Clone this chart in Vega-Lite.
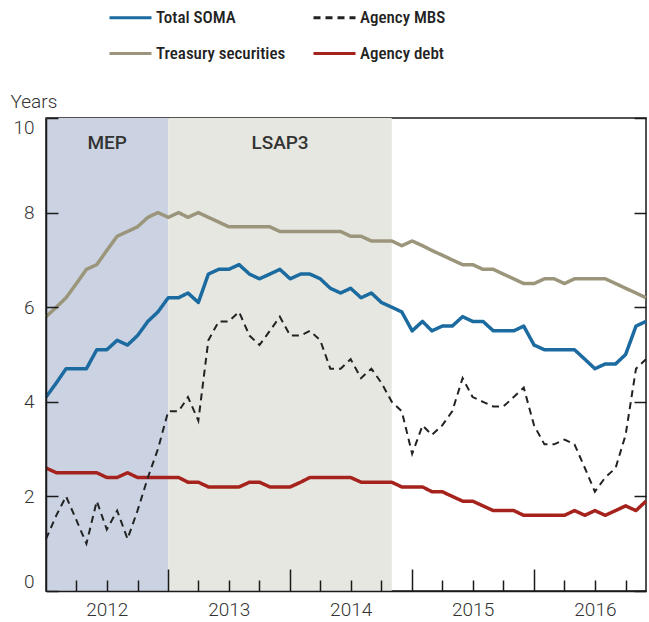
{
  "$schema": "https://vega.github.io/schema/vega-lite/v6.json",
  "width": 600,
  "height": 473,
  "autosize": {"type": "none"},
  "padding": {"left": 46, "top": 118, "right": 3, "bottom": 31},
  "background": "white",
  "config": {
    "view": {"stroke": "#1a1a1a", "strokeWidth": 1.5},
    "font": "Roboto",
    "axis": {"grid": false, "labelFont": "Roboto", "titleFont": "Roboto"}
  },
  "datasets": {
    "periods": [
      {"period": "MEP", "start": "2012-01-01", "end": "2013-01-01"},
      {"period": "LSAP3", "start": "2013-01-01", "end": "2014-11-01"}
    ],
    "wam": [
      {"date":"2012-01-01","series":"Total SOMA","value":4.1},{"date":"2012-02-01","series":"Total SOMA","value":4.4},{"date":"2012-03-01","series":"Total SOMA","value":4.7},{"date":"2012-04-01","series":"Total SOMA","value":4.7},{"date":"2012-05-01","series":"Total SOMA","value":4.7},{"date":"2012-06-01","series":"Total SOMA","value":5.1},{"date":"2012-07-01","series":"Total SOMA","value":5.1},{"date":"2012-08-01","series":"Total SOMA","value":5.3},{"date":"2012-09-01","series":"Total SOMA","value":5.2},{"date":"2012-10-01","series":"Total SOMA","value":5.4},{"date":"2012-11-01","series":"Total SOMA","value":5.7},{"date":"2012-12-01","series":"Total SOMA","value":5.9},
      {"date":"2013-01-01","series":"Total SOMA","value":6.2},{"date":"2013-02-01","series":"Total SOMA","value":6.2},{"date":"2013-03-01","series":"Total SOMA","value":6.3},{"date":"2013-04-01","series":"Total SOMA","value":6.1},{"date":"2013-05-01","series":"Total SOMA","value":6.7},{"date":"2013-06-01","series":"Total SOMA","value":6.8},{"date":"2013-07-01","series":"Total SOMA","value":6.8},{"date":"2013-08-01","series":"Total SOMA","value":6.9},{"date":"2013-09-01","series":"Total SOMA","value":6.7},{"date":"2013-10-01","series":"Total SOMA","value":6.6},{"date":"2013-11-01","series":"Total SOMA","value":6.7},{"date":"2013-12-01","series":"Total SOMA","value":6.8},
      {"date":"2014-01-01","series":"Total SOMA","value":6.6},{"date":"2014-02-01","series":"Total SOMA","value":6.7},{"date":"2014-03-01","series":"Total SOMA","value":6.7},{"date":"2014-04-01","series":"Total SOMA","value":6.6},{"date":"2014-05-01","series":"Total SOMA","value":6.4},{"date":"2014-06-01","series":"Total SOMA","value":6.3},{"date":"2014-07-01","series":"Total SOMA","value":6.4},{"date":"2014-08-01","series":"Total SOMA","value":6.2},{"date":"2014-09-01","series":"Total SOMA","value":6.3},{"date":"2014-10-01","series":"Total SOMA","value":6.1},{"date":"2014-11-01","series":"Total SOMA","value":6.0},{"date":"2014-12-01","series":"Total SOMA","value":5.9},
      {"date":"2015-01-01","series":"Total SOMA","value":5.5},{"date":"2015-02-01","series":"Total SOMA","value":5.7},{"date":"2015-03-01","series":"Total SOMA","value":5.5},{"date":"2015-04-01","series":"Total SOMA","value":5.6},{"date":"2015-05-01","series":"Total SOMA","value":5.6},{"date":"2015-06-01","series":"Total SOMA","value":5.8},{"date":"2015-07-01","series":"Total SOMA","value":5.7},{"date":"2015-08-01","series":"Total SOMA","value":5.7},{"date":"2015-09-01","series":"Total SOMA","value":5.5},{"date":"2015-10-01","series":"Total SOMA","value":5.5},{"date":"2015-11-01","series":"Total SOMA","value":5.5},{"date":"2015-12-01","series":"Total SOMA","value":5.6},
      {"date":"2016-01-01","series":"Total SOMA","value":5.2},{"date":"2016-02-01","series":"Total SOMA","value":5.1},{"date":"2016-03-01","series":"Total SOMA","value":5.1},{"date":"2016-04-01","series":"Total SOMA","value":5.1},{"date":"2016-05-01","series":"Total SOMA","value":5.1},{"date":"2016-06-01","series":"Total SOMA","value":4.9},{"date":"2016-07-01","series":"Total SOMA","value":4.7},{"date":"2016-08-01","series":"Total SOMA","value":4.8},{"date":"2016-09-01","series":"Total SOMA","value":4.8},{"date":"2016-10-01","series":"Total SOMA","value":5.0},{"date":"2016-11-01","series":"Total SOMA","value":5.6},{"date":"2016-12-01","series":"Total SOMA","value":5.7},

      {"date":"2012-01-01","series":"Treasury securities","value":5.8},{"date":"2012-02-01","series":"Treasury securities","value":6.0},{"date":"2012-03-01","series":"Treasury securities","value":6.2},{"date":"2012-04-01","series":"Treasury securities","value":6.5},{"date":"2012-05-01","series":"Treasury securities","value":6.8},{"date":"2012-06-01","series":"Treasury securities","value":6.9},{"date":"2012-07-01","series":"Treasury securities","value":7.2},{"date":"2012-08-01","series":"Treasury securities","value":7.5},{"date":"2012-09-01","series":"Treasury securities","value":7.6},{"date":"2012-10-01","series":"Treasury securities","value":7.7},{"date":"2012-11-01","series":"Treasury securities","value":7.9},{"date":"2012-12-01","series":"Treasury securities","value":8.0},
      {"date":"2013-01-01","series":"Treasury securities","value":7.9},{"date":"2013-02-01","series":"Treasury securities","value":8.0},{"date":"2013-03-01","series":"Treasury securities","value":7.9},{"date":"2013-04-01","series":"Treasury securities","value":8.0},{"date":"2013-05-01","series":"Treasury securities","value":7.9},{"date":"2013-06-01","series":"Treasury securities","value":7.8},{"date":"2013-07-01","series":"Treasury securities","value":7.7},{"date":"2013-08-01","series":"Treasury securities","value":7.7},{"date":"2013-09-01","series":"Treasury securities","value":7.7},{"date":"2013-10-01","series":"Treasury securities","value":7.7},{"date":"2013-11-01","series":"Treasury securities","value":7.7},{"date":"2013-12-01","series":"Treasury securities","value":7.6},
      {"date":"2014-01-01","series":"Treasury securities","value":7.6},{"date":"2014-02-01","series":"Treasury securities","value":7.6},{"date":"2014-03-01","series":"Treasury securities","value":7.6},{"date":"2014-04-01","series":"Treasury securities","value":7.6},{"date":"2014-05-01","series":"Treasury securities","value":7.6},{"date":"2014-06-01","series":"Treasury securities","value":7.6},{"date":"2014-07-01","series":"Treasury securities","value":7.5},{"date":"2014-08-01","series":"Treasury securities","value":7.5},{"date":"2014-09-01","series":"Treasury securities","value":7.4},{"date":"2014-10-01","series":"Treasury securities","value":7.4},{"date":"2014-11-01","series":"Treasury securities","value":7.4},{"date":"2014-12-01","series":"Treasury securities","value":7.3},
      {"date":"2015-01-01","series":"Treasury securities","value":7.4},{"date":"2015-02-01","series":"Treasury securities","value":7.3},{"date":"2015-03-01","series":"Treasury securities","value":7.2},{"date":"2015-04-01","series":"Treasury securities","value":7.1},{"date":"2015-05-01","series":"Treasury securities","value":7.0},{"date":"2015-06-01","series":"Treasury securities","value":6.9},{"date":"2015-07-01","series":"Treasury securities","value":6.9},{"date":"2015-08-01","series":"Treasury securities","value":6.8},{"date":"2015-09-01","series":"Treasury securities","value":6.8},{"date":"2015-10-01","series":"Treasury securities","value":6.7},{"date":"2015-11-01","series":"Treasury securities","value":6.6},{"date":"2015-12-01","series":"Treasury securities","value":6.5},
      {"date":"2016-01-01","series":"Treasury securities","value":6.5},{"date":"2016-02-01","series":"Treasury securities","value":6.6},{"date":"2016-03-01","series":"Treasury securities","value":6.6},{"date":"2016-04-01","series":"Treasury securities","value":6.5},{"date":"2016-05-01","series":"Treasury securities","value":6.6},{"date":"2016-06-01","series":"Treasury securities","value":6.6},{"date":"2016-07-01","series":"Treasury securities","value":6.6},{"date":"2016-08-01","series":"Treasury securities","value":6.6},{"date":"2016-09-01","series":"Treasury securities","value":6.5},{"date":"2016-10-01","series":"Treasury securities","value":6.4},{"date":"2016-11-01","series":"Treasury securities","value":6.3},{"date":"2016-12-01","series":"Treasury securities","value":6.2},

      {"date":"2012-01-01","series":"Agency MBS","value":1.1},{"date":"2012-02-01","series":"Agency MBS","value":1.6},{"date":"2012-03-01","series":"Agency MBS","value":2.0},{"date":"2012-04-01","series":"Agency MBS","value":1.5},{"date":"2012-05-01","series":"Agency MBS","value":1.0},{"date":"2012-06-01","series":"Agency MBS","value":1.9},{"date":"2012-07-01","series":"Agency MBS","value":1.3},{"date":"2012-08-01","series":"Agency MBS","value":1.7},{"date":"2012-09-01","series":"Agency MBS","value":1.1},{"date":"2012-10-01","series":"Agency MBS","value":1.7},{"date":"2012-11-01","series":"Agency MBS","value":2.4},{"date":"2012-12-01","series":"Agency MBS","value":3.0},
      {"date":"2013-01-01","series":"Agency MBS","value":3.8},{"date":"2013-02-01","series":"Agency MBS","value":3.8},{"date":"2013-03-01","series":"Agency MBS","value":4.1},{"date":"2013-04-01","series":"Agency MBS","value":3.6},{"date":"2013-05-01","series":"Agency MBS","value":5.3},{"date":"2013-06-01","series":"Agency MBS","value":5.7},{"date":"2013-07-01","series":"Agency MBS","value":5.7},{"date":"2013-08-01","series":"Agency MBS","value":5.9},{"date":"2013-09-01","series":"Agency MBS","value":5.4},{"date":"2013-10-01","series":"Agency MBS","value":5.2},{"date":"2013-11-01","series":"Agency MBS","value":5.5},{"date":"2013-12-01","series":"Agency MBS","value":5.8},
      {"date":"2014-01-01","series":"Agency MBS","value":5.4},{"date":"2014-02-01","series":"Agency MBS","value":5.4},{"date":"2014-03-01","series":"Agency MBS","value":5.5},{"date":"2014-04-01","series":"Agency MBS","value":5.3},{"date":"2014-05-01","series":"Agency MBS","value":4.7},{"date":"2014-06-01","series":"Agency MBS","value":4.7},{"date":"2014-07-01","series":"Agency MBS","value":4.9},{"date":"2014-08-01","series":"Agency MBS","value":4.5},{"date":"2014-09-01","series":"Agency MBS","value":4.7},{"date":"2014-10-01","series":"Agency MBS","value":4.4},{"date":"2014-11-01","series":"Agency MBS","value":4.0},{"date":"2014-12-01","series":"Agency MBS","value":3.8},
      {"date":"2015-01-01","series":"Agency MBS","value":2.9},{"date":"2015-02-01","series":"Agency MBS","value":3.5},{"date":"2015-03-01","series":"Agency MBS","value":3.3},{"date":"2015-04-01","series":"Agency MBS","value":3.5},{"date":"2015-05-01","series":"Agency MBS","value":3.8},{"date":"2015-06-01","series":"Agency MBS","value":4.5},{"date":"2015-07-01","series":"Agency MBS","value":4.1},{"date":"2015-08-01","series":"Agency MBS","value":4.0},{"date":"2015-09-01","series":"Agency MBS","value":3.9},{"date":"2015-10-01","series":"Agency MBS","value":3.9},{"date":"2015-11-01","series":"Agency MBS","value":4.1},{"date":"2015-12-01","series":"Agency MBS","value":4.3},
      {"date":"2016-01-01","series":"Agency MBS","value":3.5},{"date":"2016-02-01","series":"Agency MBS","value":3.1},{"date":"2016-03-01","series":"Agency MBS","value":3.1},{"date":"2016-04-01","series":"Agency MBS","value":3.2},{"date":"2016-05-01","series":"Agency MBS","value":3.1},{"date":"2016-06-01","series":"Agency MBS","value":2.6},{"date":"2016-07-01","series":"Agency MBS","value":2.1},{"date":"2016-08-01","series":"Agency MBS","value":2.4},{"date":"2016-09-01","series":"Agency MBS","value":2.6},{"date":"2016-10-01","series":"Agency MBS","value":3.3},{"date":"2016-11-01","series":"Agency MBS","value":4.7},{"date":"2016-12-01","series":"Agency MBS","value":4.9},

      {"date":"2012-01-01","series":"Agency debt","value":2.6},{"date":"2012-02-01","series":"Agency debt","value":2.5},{"date":"2012-03-01","series":"Agency debt","value":2.5},{"date":"2012-04-01","series":"Agency debt","value":2.5},{"date":"2012-05-01","series":"Agency debt","value":2.5},{"date":"2012-06-01","series":"Agency debt","value":2.5},{"date":"2012-07-01","series":"Agency debt","value":2.4},{"date":"2012-08-01","series":"Agency debt","value":2.4},{"date":"2012-09-01","series":"Agency debt","value":2.5},{"date":"2012-10-01","series":"Agency debt","value":2.4},{"date":"2012-11-01","series":"Agency debt","value":2.4},{"date":"2012-12-01","series":"Agency debt","value":2.4},
      {"date":"2013-01-01","series":"Agency debt","value":2.4},{"date":"2013-02-01","series":"Agency debt","value":2.4},{"date":"2013-03-01","series":"Agency debt","value":2.3},{"date":"2013-04-01","series":"Agency debt","value":2.3},{"date":"2013-05-01","series":"Agency debt","value":2.2},{"date":"2013-06-01","series":"Agency debt","value":2.2},{"date":"2013-07-01","series":"Agency debt","value":2.2},{"date":"2013-08-01","series":"Agency debt","value":2.2},{"date":"2013-09-01","series":"Agency debt","value":2.3},{"date":"2013-10-01","series":"Agency debt","value":2.3},{"date":"2013-11-01","series":"Agency debt","value":2.2},{"date":"2013-12-01","series":"Agency debt","value":2.2},
      {"date":"2014-01-01","series":"Agency debt","value":2.2},{"date":"2014-02-01","series":"Agency debt","value":2.3},{"date":"2014-03-01","series":"Agency debt","value":2.4},{"date":"2014-04-01","series":"Agency debt","value":2.4},{"date":"2014-05-01","series":"Agency debt","value":2.4},{"date":"2014-06-01","series":"Agency debt","value":2.4},{"date":"2014-07-01","series":"Agency debt","value":2.4},{"date":"2014-08-01","series":"Agency debt","value":2.3},{"date":"2014-09-01","series":"Agency debt","value":2.3},{"date":"2014-10-01","series":"Agency debt","value":2.3},{"date":"2014-11-01","series":"Agency debt","value":2.3},{"date":"2014-12-01","series":"Agency debt","value":2.2},
      {"date":"2015-01-01","series":"Agency debt","value":2.2},{"date":"2015-02-01","series":"Agency debt","value":2.2},{"date":"2015-03-01","series":"Agency debt","value":2.1},{"date":"2015-04-01","series":"Agency debt","value":2.1},{"date":"2015-05-01","series":"Agency debt","value":2.0},{"date":"2015-06-01","series":"Agency debt","value":1.9},{"date":"2015-07-01","series":"Agency debt","value":1.9},{"date":"2015-08-01","series":"Agency debt","value":1.8},{"date":"2015-09-01","series":"Agency debt","value":1.7},{"date":"2015-10-01","series":"Agency debt","value":1.7},{"date":"2015-11-01","series":"Agency debt","value":1.7},{"date":"2015-12-01","series":"Agency debt","value":1.6},
      {"date":"2016-01-01","series":"Agency debt","value":1.6},{"date":"2016-02-01","series":"Agency debt","value":1.6},{"date":"2016-03-01","series":"Agency debt","value":1.6},{"date":"2016-04-01","series":"Agency debt","value":1.6},{"date":"2016-05-01","series":"Agency debt","value":1.7},{"date":"2016-06-01","series":"Agency debt","value":1.6},{"date":"2016-07-01","series":"Agency debt","value":1.7},{"date":"2016-08-01","series":"Agency debt","value":1.6},{"date":"2016-09-01","series":"Agency debt","value":1.7},{"date":"2016-10-01","series":"Agency debt","value":1.8},{"date":"2016-11-01","series":"Agency debt","value":1.7},{"date":"2016-12-01","series":"Agency debt","value":1.9}
    ]
  },
  "layer": [
    {
      "data": {"name": "periods"},
      "mark": {"type": "rect"},
      "encoding": {
        "x": {
          "field": "start", "type": "temporal",
          "scale": {"type": "utc", "domain": [{"year": 2012, "month": 1, "date": 1, "utc": true}, {"year": 2016, "month": 12, "date": 1, "utc": true}]},
          "axis": {
            "orient": "bottom", "title": null, "ticks": false, "domain": false, "zindex": 1,
            "values": [{"year": 2012, "month": 7, "date": 1, "utc": true}, {"year": 2013, "month": 7, "date": 1, "utc": true}, {"year": 2014, "month": 7, "date": 1, "utc": true}, {"year": 2015, "month": 7, "date": 1, "utc": true}, {"year": 2016, "month": 7, "date": 1, "utc": true}],
            "format": "%Y", "labelFontSize": 19, "labelColor": "#333333", "labelFontWeight": 300,
            "labelPadding": 9, "labelFlush": false, "labelOverlap": false
          }
        },
        "x2": {"field": "end"},
        "fill": {
          "field": "period", "type": "nominal",
          "scale": {"domain": ["MEP", "LSAP3"], "range": ["#cbd3e3", "#e6e7e0"]},
          "legend": null
        }
      }
    },
    {
      "data": {"name": "periods"},
      "transform": [{"calculate": "(+toDate(datum.start) + +toDate(datum.end)) / 2", "as": "mid"}],
      "mark": {"type": "text", "fontSize": 19, "fontWeight": 500, "color": "#333333", "font": "Roboto", "baseline": "middle", "align": "center"},
      "encoding": {
        "x": {"field": "mid", "type": "temporal", "scale": {"type": "utc"}, "axis": null},
        "y": {
          "datum": 9.48, "type": "quantitative",
          "axis": {"orient": "right", "title": null, "labels": false, "domain": false, "zindex": 1, "values": [0, 2, 4, 6, 8, 10], "tickSize": -12, "tickColor": "#1a1a1a", "tickWidth": 1.5}
        },
        "text": {"field": "period"}
      }
    },
    {
      "data": {"name": "wam"},
      "transform": [{"filter": "datum.series !== 'Agency MBS'"}],
      "mark": {"type": "line", "strokeWidth": 3.5, "strokeJoin": "round"},
      "encoding": {
        "x": {
          "field": "date", "type": "temporal", "scale": {"type": "utc"},
          "axis": {
            "orient": "bottom", "title": null, "labels": false, "domain": true, "domainColor": "#1a1a1a", "domainWidth": 1.5, "zindex": 1,
            "values": [{"year": 2012, "month": 4, "date": 1, "utc": true}, {"year": 2012, "month": 7, "date": 1, "utc": true}, {"year": 2012, "month": 10, "date": 1, "utc": true},
                       {"year": 2013, "month": 4, "date": 1, "utc": true}, {"year": 2013, "month": 7, "date": 1, "utc": true}, {"year": 2013, "month": 10, "date": 1, "utc": true},
                       {"year": 2014, "month": 4, "date": 1, "utc": true}, {"year": 2014, "month": 7, "date": 1, "utc": true}, {"year": 2014, "month": 10, "date": 1, "utc": true},
                       {"year": 2015, "month": 4, "date": 1, "utc": true}, {"year": 2015, "month": 7, "date": 1, "utc": true}, {"year": 2015, "month": 10, "date": 1, "utc": true},
                       {"year": 2016, "month": 4, "date": 1, "utc": true}, {"year": 2016, "month": 7, "date": 1, "utc": true}, {"year": 2016, "month": 10, "date": 1, "utc": true}],
            "tickSize": -11, "tickColor": "#1a1a1a", "tickWidth": 1.5
          }
        },
        "y": {
          "field": "value", "type": "quantitative",
          "scale": {"domain": [0, 10], "nice": false, "zero": true},
          "axis": {
            "orient": "left", "values": [0, 2, 4, 6, 8, 10], "ticks": false, "domain": true, "domainColor": "#1a1a1a", "domainWidth": 1.5, "zindex": 1,
            "labelFontSize": 19, "labelColor": "#333333", "labelFontWeight": 300, "labelPadding": 12, "labelFlush": true,
            "title": "Years", "titleAngle": 0, "titleX": -36, "titleY": -11, "titleAlign": "left", "titleBaseline": "alphabetic",
            "titleFontSize": 19, "titleFontWeight": 300, "titleColor": "#333333"
          }
        },
        "color": {
          "field": "series", "type": "nominal",
          "scale": {"domain": ["Total SOMA", "Treasury securities", "Agency MBS", "Agency debt"], "range": ["#1c6ba0", "#9b967b", "#222222", "#a5231c"]},
          "legend": {
            "orient": "none", "legendX": 62, "legendY": -123, "columns": 2, "title": null,
            "symbolType": "stroke", "symbolSize": 1764, "symbolStrokeWidth": 3,
            "labelFontSize": 17, "labelFontWeight": 500, "labelColor": "#222222",
            "labelFont": "Roboto Condensed, Liberation Sans Narrow, Roboto",
            "labelOffset": 3, "columnPadding": 21, "rowPadding": 5, "labelLimit": 300
          }
        },
        "strokeDash": {
          "field": "series", "type": "nominal",
          "scale": {"domain": ["Total SOMA", "Treasury securities", "Agency MBS", "Agency debt"], "range": [[1, 0], [1, 0], [7, 5], [1, 0]]},
          "legend": {
            "orient": "none", "legendX": 62, "legendY": -123, "columns": 2, "title": null,
            "symbolType": "stroke", "symbolSize": 1764, "symbolStrokeWidth": 3,
            "labelFontSize": 17, "labelFontWeight": 500, "labelColor": "#222222",
            "labelFont": "Roboto Condensed, Liberation Sans Narrow, Roboto",
            "labelOffset": 3, "columnPadding": 21, "rowPadding": 5, "labelLimit": 300
          }
        }
      }
    },
    {
      "data": {"name": "wam"},
      "transform": [{"filter": "datum.series === 'Agency MBS'"}],
      "mark": {"type": "line", "strokeWidth": 2},
      "encoding": {
        "x": {
          "field": "date", "type": "temporal", "scale": {"type": "utc"},
          "axis": {
            "orient": "bottom", "title": null, "labels": false, "domain": false, "zindex": 1,
            "values": [{"year": 2013, "month": 1, "date": 1, "utc": true}, {"year": 2014, "month": 1, "date": 1, "utc": true}, {"year": 2015, "month": 1, "date": 1, "utc": true}, {"year": 2016, "month": 1, "date": 1, "utc": true}],
            "tickSize": -22, "tickColor": "#1a1a1a", "tickWidth": 1.5
          }
        },
        "y": {
          "field": "value", "type": "quantitative",
          "axis": {"orient": "left", "title": null, "labels": false, "domain": false, "zindex": 1, "values": [0, 2, 4, 6, 8, 10], "tickSize": -12, "tickColor": "#1a1a1a", "tickWidth": 1.5}
        },
        "color": {"field": "series", "type": "nominal"},
        "strokeDash": {"field": "series", "type": "nominal"}
      }
    }
  ],
  "resolve": {"axis": {"x": "independent", "y": "independent"}}
}
